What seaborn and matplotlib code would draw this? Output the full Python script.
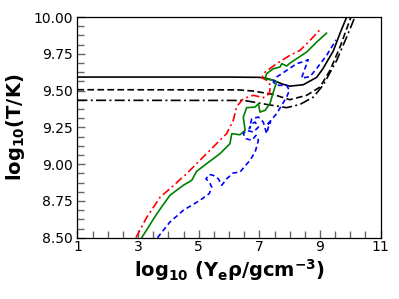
import matplotlib
matplotlib.use("Agg")
import matplotlib.pyplot as plt
import seaborn as sns
from matplotlib.ticker import AutoMinorLocator, MultipleLocator, FormatStrFormatter

# black reference lines (solid / dashed / dash-dot)
solid_x = [1.0, 6.0, 7.0, 7.2, 7.46, 7.75, 8.0, 8.45, 8.89, 9.1, 9.44, 9.66, 9.88]
solid_y = [9.592, 9.592, 9.59, 9.585, 9.57, 9.545, 9.53, 9.54, 9.59, 9.65, 9.77, 9.89, 10.0]

dash_x = [1.0, 6.3, 6.8, 7.46, 8.0, 8.56, 9.0, 9.33, 9.66, 10.02]
dash_y = [9.506, 9.505, 9.497, 9.474, 9.438, 9.468, 9.524, 9.638, 9.796, 10.0]

dashdot_x = [1.0, 6.5, 7.24, 7.9, 8.34, 8.78, 9.1, 9.55, 9.88, 10.15]
dashdot_y = [9.434, 9.433, 9.406, 9.384, 9.406, 9.456, 9.536, 9.705, 9.864, 10.0]

# red dash-dot track
red_x = [2.93, 3.29, 3.73, 4.05, 4.6, 5.04, 5.59, 5.92, 6.14, 6.25, 6.47, 6.8, 7.13,
         7.33, 7.37, 7.24, 7.08, 7.19, 7.57, 8.01, 8.34, 8.67, 9.0]
red_y = [8.5, 8.64, 8.776, 8.833, 8.935, 9.026, 9.14, 9.207, 9.298, 9.39, 9.445, 9.468, 9.452,
         9.479, 9.536, 9.57, 9.588, 9.626, 9.683, 9.74, 9.773, 9.841, 9.914]

# green solid track
green_x = [3.12, 3.62, 4.05, 4.49, 4.77, 4.93, 5.26, 5.7, 6.03, 6.09, 6.36, 6.53, 6.47, 6.58,
           6.86, 6.97, 7.02, 7.19, 7.35, 7.46, 7.57, 7.46, 7.19, 7.24, 7.46, 7.68, 7.74, 7.9,
           8.01, 8.23, 8.56, 8.89, 9.22]
green_y = [8.5, 8.663, 8.788, 8.856, 8.89, 8.951, 9.003, 9.071, 9.139, 9.207, 9.2, 9.23, 9.32,
           9.384, 9.388, 9.411, 9.354, 9.366, 9.411, 9.49, 9.558, 9.57, 9.581, 9.615, 9.649,
           9.66, 9.683, 9.667, 9.687, 9.717, 9.762, 9.83, 9.891]

# blue dashed track
blue_x = [3.64, 4.05, 4.49, 5.04, 5.35, 5.43, 5.35, 5.24, 5.35, 5.48, 5.65, 5.76, 5.92, 6.14,
          6.36, 6.69, 6.86, 6.97, 6.89, 6.75, 6.56, 6.47, 6.58, 6.8, 6.97, 6.86, 6.75, 6.67,
          6.75, 6.97, 7.13, 7.24, 7.3, 7.37, 7.24, 7.57, 7.9, 7.99, 7.9, 7.57, 7.46, 7.57,
          7.9, 8.23, 8.5, 8.61, 8.39, 8.67, 8.89, 9.22, 9.53]
blue_y = [8.5, 8.606, 8.686, 8.754, 8.8, 8.844, 8.878, 8.9, 8.93, 8.924, 8.9, 8.856, 8.9, 8.94,
          8.946, 9.026, 9.082, 9.162, 9.196, 9.162, 9.173, 9.207, 9.23, 9.218, 9.252, 9.286,
          9.275, 9.241, 9.309, 9.32, 9.286, 9.207, 9.252, 9.286, 9.264, 9.343, 9.456, 9.502,
          9.536, 9.536, 9.558, 9.592, 9.637, 9.683, 9.7, 9.71, 9.585, 9.595, 9.65, 9.74, 9.845]

x_ticks = [1, 3, 5, 7, 9, 11]

sns.set_style("ticks", {"xtick.direction": "in", "ytick.direction": "in"})
plt.rcParams["font.family"] = ["DejaVu Sans"]
plt.rcParams["mathtext.default"] = "bf"
plt.rcParams["text.color"] = "black"
plt.rcParams["axes.labelcolor"] = "black"
plt.rcParams["xtick.color"] = "black"
plt.rcParams["ytick.color"] = "black"
plt.rcParams["xtick.minor.visible"] = True
plt.rcParams["ytick.minor.visible"] = True

fig, ax = plt.subplots(figsize=(3.99, 2.99), dpi=100)
fig.subplots_adjust(left=0.194, right=0.954, bottom=0.205, top=0.943)

lw = 1.2
sns.lineplot(x=solid_x, y=solid_y, sort=False, estimator=None, color="black", lw=lw, ax=ax)
sns.lineplot(x=dash_x, y=dash_y, sort=False, estimator=None, color="black", lw=lw,
             linestyle=(0, (4, 2)), ax=ax)
sns.lineplot(x=dashdot_x, y=dashdot_y, sort=False, estimator=None, color="black", lw=lw,
             linestyle=(0, (6, 2, 1.2, 2)), ax=ax)
sns.lineplot(x=red_x, y=red_y, sort=False, estimator=None, color="red", lw=lw,
             linestyle=(0, (5, 2, 1.2, 2)), ax=ax)
sns.lineplot(x=green_x, y=green_y, sort=False, estimator=None, color="green", lw=lw, ax=ax)
sns.lineplot(x=blue_x, y=blue_y, sort=False, estimator=None, color="blue", lw=lw,
             linestyle=(0, (3, 2)), ax=ax)

ax.set_xlim(1, 11)
ax.set_ylim(8.5, 10.0)
ax.set_xticks(x_ticks)
ax.yaxis.set_major_locator(MultipleLocator(0.25))
ax.xaxis.set_minor_locator(AutoMinorLocator(4))
ax.yaxis.set_minor_locator(AutoMinorLocator(4))
ax.yaxis.set_major_formatter(FormatStrFormatter("%.2f"))
ax.tick_params(which="both", direction="in", top=False, right=False,
               bottom=True, left=True, color="0.4", labelcolor="black", labelsize=10)
ax.tick_params(which="major", length=6, width=1.0)
ax.tick_params(which="minor", length=5, width=1.0)
ax.tick_params(axis="x", pad=2)
for s in ax.spines.values():
    s.set_color("black")
    s.set_linewidth(0.9)

ax.set_xlabel(r"$log_{10}\ (Y_e\rho/gcm^{-3})$", fontsize=14, fontweight="bold", labelpad=2)
ax.set_ylabel(r"$log_{10}(T/K)$", fontsize=14, fontweight="bold", labelpad=4)

fig.savefig("out.png", dpi=100)
